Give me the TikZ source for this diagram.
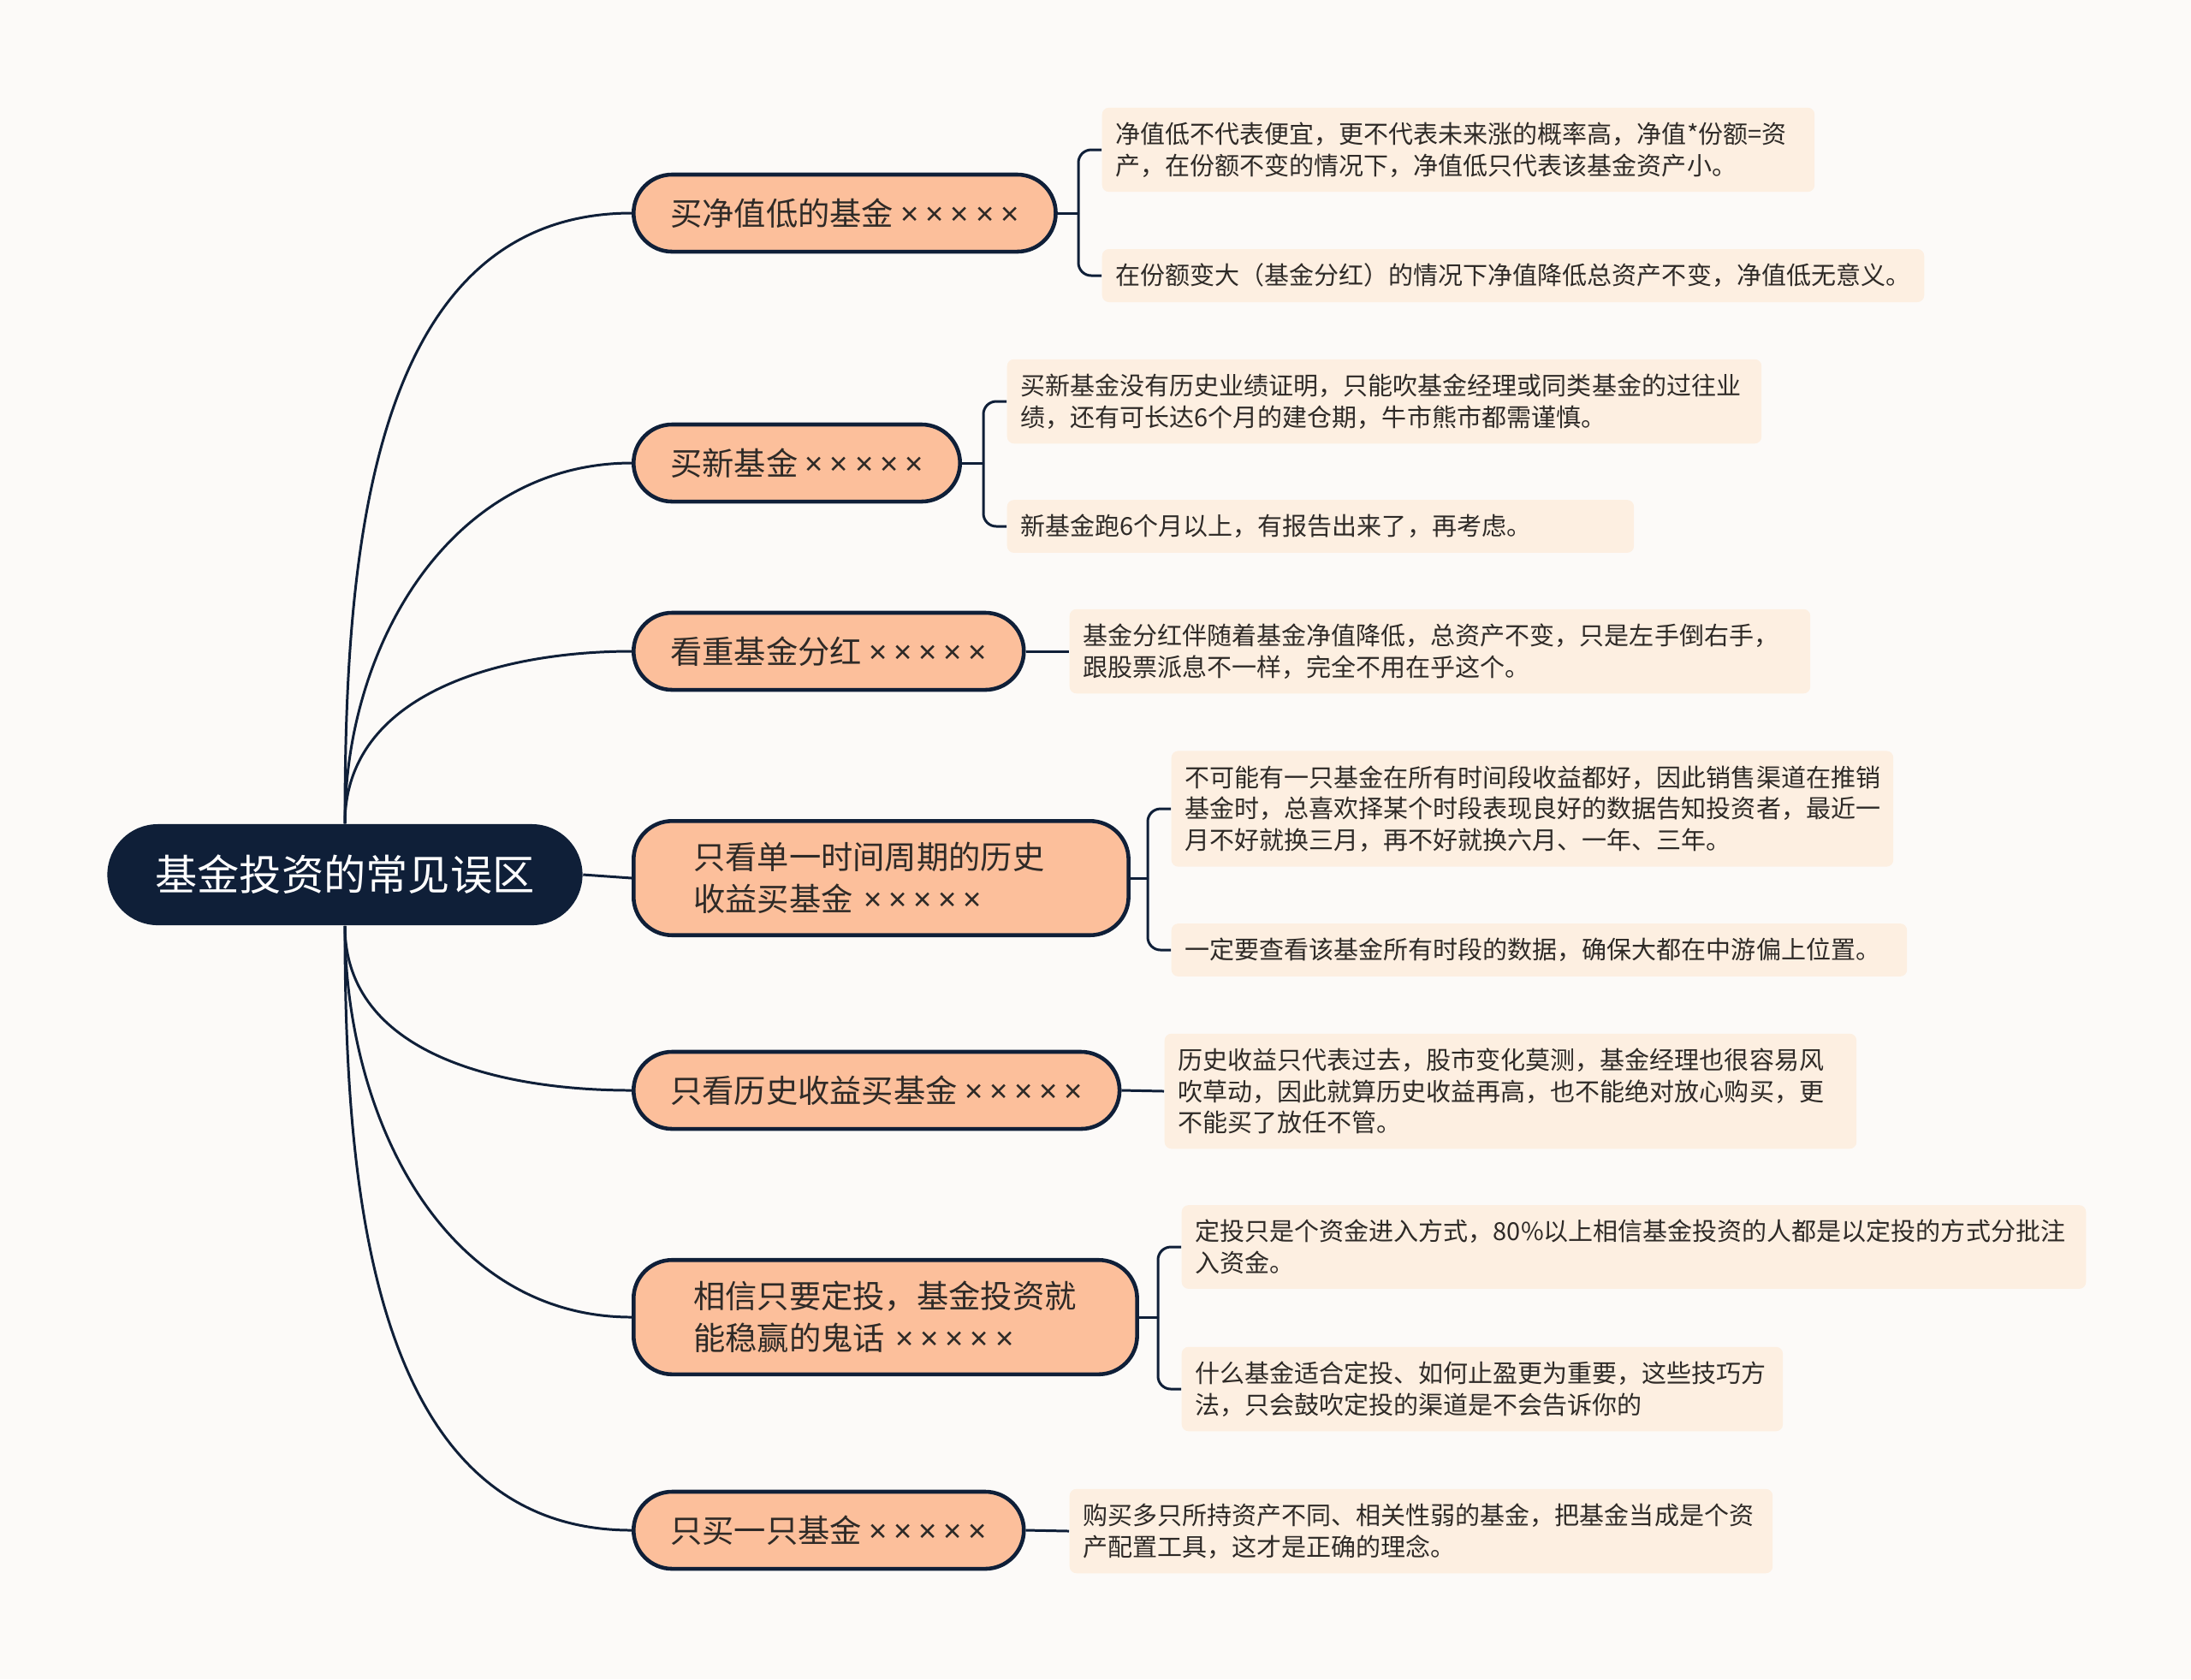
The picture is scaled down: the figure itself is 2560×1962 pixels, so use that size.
\documentclass[tikz,border=0pt]{standalone}
\usepackage{fontspec}
\setmainfont{Noto Sans CJK SC}
\newfontfamily\latein{Noto Sans}

\definecolor{hintergrund}{HTML}{FCFAF8}
\definecolor{navy}{HTML}{0F1F38}
\definecolor{pfirsich}{HTML}{FCBF9B}
\definecolor{creme}{HTML}{FDEFE1}
\definecolor{textdunkel}{HTML}{2E2A27}

\newcommand\kreuze{{\latein ×\kern.21em×\kern.21em×\kern.21em×\kern.21em×}}

\tikzset{
	wurzel/.style={fill=navy, text=white, rounded corners=0.59cm, minimum height=1.18cm, inner xsep=0.56cm, font=\fontsize{14}{17}\selectfont},
	ast/.style={fill=pfirsich, draw=navy, line width=1.3pt, rounded corners=0.45cm, minimum height=0.9cm, inner xsep=0.43cm, text=textdunkel, font=\fontsize{10.6}{13.9}\selectfont, anchor=west},
	astzwei/.style={ast, inner xsep=0.7cm, inner ysep=0.25cm, align=left, text width=#1},
	blatt/.style={fill=creme, rounded corners=0.08cm, inner xsep=0.16cm, inner ysep=0.17cm, align=left, text=textdunkel, font=\fontsize{8.25}{10.45}\selectfont, anchor=west, text width=#1},
	linie/.style={draw=navy, line width=0.85pt},
}

\begin{document}
\begin{tikzpicture}[x=0.01cm, y=0.01cm]
		%Hintergrund
		\fill[hintergrund] (0,0) rectangle (2560,-1962);
		\useasboundingbox (0,0) rectangle (2560,-1962);
		
		%Hauptknoten
		\node[wurzel] (wurzel) at (403,-1022) {基金投资的常见误区};
		
		%Aeste
		\node[ast] (a1) at (738,-249) {买净值低的基金 \kreuze};
		\node[ast] (a2) at (738,-541) {买新基金 \kreuze};
		\node[ast] (a3) at (738,-761) {看重基金分红 \kreuze};
		\node[astzwei=4.38cm] (a4) at (738,-1026) {只看单一时间周期的历史\\收益买基金 \kreuze};
		\node[ast] (a5) at (738,-1274) {只看历史收益买基金 \kreuze};
		\node[astzwei=4.48cm] (a6) at (738,-1539) {相信只要定投，基金投资就\\能稳赢的鬼话 \kreuze};
		\node[ast] (a7) at (738,-1788) {只买一只基金 \kreuze};
		
		%Blaetter
		\node[blatt=8cm] (b1a) at (1287,-175) {净值低不代表便宜，更不代表未来涨的概率高，净值*份额=资\\产，在份额不变的情况下，净值低只代表该基金资产小。};
		\node[blatt=9.28cm] (b1b) at (1287,-322) {在份额变大（基金分红）的情况下净值降低总资产不变，净值低无意义。};
		\node[blatt=8.49cm] (b2a) at (1176,-469) {买新基金没有历史业绩证明，只能吹基金经理或同类基金的过往业\\绩，还有可长达6个月的建仓期，牛市熊市都需谨慎。};
		\node[blatt=7cm] (b2b) at (1176,-615) {新基金跑6个月以上，有报告出来了，再考虑。};
		\node[blatt=8.33cm] (b3) at (1249,-761) {基金分红伴随着基金净值降低，总资产不变，只是左手倒右手，\\跟股票派息不一样，完全不用在乎这个。};
		\node[blatt=8.11cm] (b4a) at (1368,-945) {不可能有一只基金在所有时间段收益都好，因此销售渠道在推销\\基金时，总喜欢择某个时段表现良好的数据告知投资者，最近一\\月不好就换三月，再不好就换六月、一年、三年。};
		\node[blatt=8.27cm] (b4b) at (1368,-1110) {一定要查看该基金所有时段的数据，确保大都在中游偏上位置。};
		\node[blatt=7.76cm] (b5) at (1360,-1275) {历史收益只代表过去，股市变化莫测，基金经理也很容易风\\吹草动，因此就算历史收益再高，也不能绝对放心购买，更\\不能买了放任不管。};
		\node[blatt=10.24cm] (b6a) at (1380,-1457) {定投只是个资金进入方式，80\%以上相信基金投资的人都是以定投的方式分批注\\入资金。};
		\node[blatt=6.7cm] (b6b) at (1380,-1623) {什么基金适合定投、如何止盈更为重要，这些技巧方\\法，只会鼓吹定投的渠道是不会告诉你的};
		\node[blatt=7.89cm] (b7) at (1249,-1789) {购买多只所持资产不同、相关性弱的基金，把基金当成是个资\\产配置工具，这才是正确的理念。};
		
		%Knoten fuer Klammern
		\coordinate (k1) at (1260,-249);
		\coordinate (k2) at (1149,-541);
		\coordinate (k4) at (1341,-1026);
		\coordinate (k6) at (1353,-1539);
		
		%Verbindungen Hauptknoten
		\draw[linie] (wurzel.north) to[out=90,in=180] (a1.west);
		\draw[linie] (wurzel.north) to[out=90,in=180] (a2.west);
		\draw[linie] (wurzel.north) to[out=90,in=180] (a3.west);
		\draw[linie] (wurzel.east) -- (a4.west);
		\draw[linie] (wurzel.south) to[out=-90,in=180] (a5.west);
		\draw[linie] (wurzel.south) to[out=-90,in=180] (a6.west);
		\draw[linie] (wurzel.south) to[out=-90,in=180] (a7.west);
		
		%Klammern
		\draw[linie] (a1.east) -- (k1);
		\draw[linie, rounded corners=0.15cm] (k1) |- (b1a.west);
		\draw[linie, rounded corners=0.15cm] (k1) |- (b1b.west);
		\draw[linie] (a2.east) -- (k2);
		\draw[linie, rounded corners=0.15cm] (k2) |- (b2a.west);
		\draw[linie, rounded corners=0.15cm] (k2) |- (b2b.west);
		\draw[linie] (a4.east) -- (k4);
		\draw[linie, rounded corners=0.15cm] (k4) |- (b4a.west);
		\draw[linie, rounded corners=0.15cm] (k4) |- (b4b.west);
		\draw[linie] (a6.east) -- (k6);
		\draw[linie, rounded corners=0.15cm] (k6) |- (b6a.west);
		\draw[linie, rounded corners=0.15cm] (k6) |- (b6b.west);
		
		%einzelne Blaetter
		\draw[linie] (a3.east) -- (b3.west);
		\draw[linie] (a5.east) -- (b5.west);
		\draw[linie] (a7.east) -- (b7.west);
\end{tikzpicture}
\end{document}
